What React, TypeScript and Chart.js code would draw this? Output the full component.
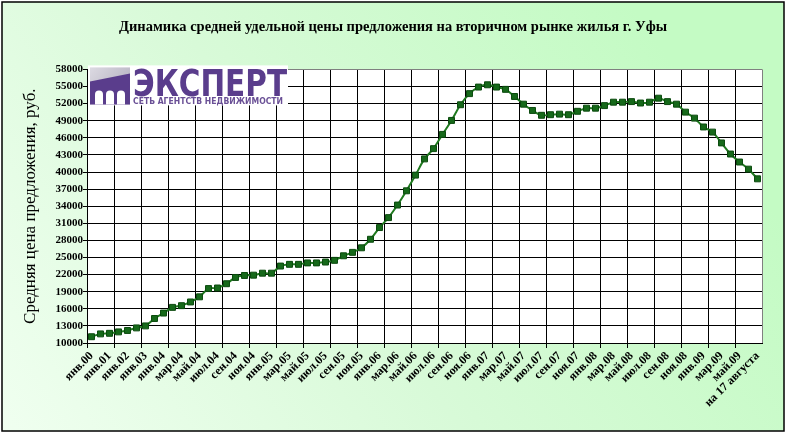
import React, { useEffect, useRef } from "react";
import { Chart, registerables } from "chart.js";

Chart.register(...registerables);

const TITLE = "Динамика средней удельной цены предложения на вторичном рынке жилья г. Уфы";
const Y_TITLE = "Средняя цена предложения, руб.";

const CATEGORIES = [
  "янв.00", "июл.00", "янв.01", "июл.01", "янв.02", "июл.02", "янв.03", "июл.03",
  "янв.04", "фев.04", "мар.04", "апр.04", "май.04", "июн.04", "июл.04", "авг.04", "сен.04", "окт.04", "ноя.04", "дек.04",
  "янв.05", "фев.05", "мар.05", "апр.05", "май.05", "июн.05", "июл.05", "авг.05", "сен.05", "окт.05", "ноя.05", "дек.05",
  "янв.06", "фев.06", "мар.06", "апр.06", "май.06", "июн.06", "июл.06", "авг.06", "сен.06", "окт.06", "ноя.06", "дек.06",
  "янв.07", "фев.07", "мар.07", "апр.07", "май.07", "июн.07", "июл.07", "авг.07", "сен.07", "окт.07", "ноя.07", "дек.07",
  "янв.08", "фев.08", "мар.08", "апр.08", "май.08", "июн.08", "июл.08", "авг.08", "сен.08", "окт.08", "ноя.08", "дек.08",
  "янв.09", "фев.09", "мар.09", "апр.09", "май.09", "июн.09", "на 17 августа",
];

const PRICES = [
  11100, 11600, 11700, 11950, 12200, 12650, 13000, 14300,
  15250, 16250, 16550, 17200, 18100, 19550, 19650, 20400, 21500, 21850, 21900, 22250,
  22250, 23500, 23800, 23800, 24050, 24050, 24200, 24500, 25300, 25900, 26700, 28200,
  30250, 32000, 34200, 36700, 39450, 42300, 44100, 46600, 49050, 51800, 53750, 54900,
  55300, 54900, 54500, 53250, 51900, 50800, 49950, 50050, 50150, 50050, 50650, 51200,
  51200, 51650, 52250, 52250, 52350, 52100, 52250, 52950, 52350, 51900, 50500, 49450,
  47900, 47000, 45100, 43150, 41750, 40500, 38800,
];

const Y_MIN = 10000;
const Y_MAX = 58000;
const Y_STEP = 3000;

const LOGO_MAIN = "ЭКСПЕРТ";
const LOGO_SUB = "СЕТЬ АГЕНТСТВ НЕДВИЖИМОСТИ";

const SERIF = "'Liberation Serif', 'Times New Roman', serif";
const SANS = "'DejaVu Sans', 'Liberation Sans', sans-serif";

const backgroundPlugin = {
  id: "bgPlugin",
  beforeDraw(chart: any) {
    const { ctx, width, height, chartArea } = chart;
    ctx.save();
    ctx.fillStyle = "#ffffff";
    ctx.fillRect(0, 0, width, height);
    const g = ctx.createLinearGradient(0, height, width * 0.8, 0);
    g.addColorStop(0, "#f0fff0");
    g.addColorStop(0.5, "#d8fad8");
    g.addColorStop(1, "#c4fbc4");
    ctx.fillStyle = g;
    ctx.fillRect(2, 2, width - 4, height - 4);
    ctx.strokeStyle = "#000000";
    ctx.lineWidth = 1.5;
    ctx.strokeRect(2, 2, width - 4, height - 4);
    ctx.fillStyle = "#ffffff";
    ctx.fillRect(chartArea.left, chartArea.top, chartArea.right - chartArea.left, chartArea.bottom - chartArea.top);
    ctx.restore();
  },
  beforeDatasetsDraw(chart: any) {
    const { ctx, chartArea } = chart;
    ctx.save();
    ctx.strokeStyle = "#808080";
    ctx.lineWidth = 1;
    const r = Math.round(chartArea.right) + 0.5;
    ctx.beginPath();
    ctx.moveTo(r, chartArea.top);
    ctx.lineTo(r, chartArea.bottom);
    ctx.stroke();
    ctx.restore();
  },
  afterDraw(chart: any) {
    const { ctx, chartArea } = chart;
    const x0 = chartArea.left + 1;
    const y0 = chartArea.top - 4;
    ctx.save();
    ctx.fillStyle = "#ffffff";
    ctx.fillRect(x0, y0, 200, 40);
    const ix = x0 + 2;
    const iy = y0 + 2;
    const gg = ctx.createLinearGradient(ix, iy, ix + 40, iy + 38);
    gg.addColorStop(0, "#dcdae2");
    gg.addColorStop(1, "#a9a5b6");
    ctx.fillStyle = gg;
    ctx.fillRect(ix, iy, 40, 37);
    ctx.fillStyle = "#5a3d8c";
    ctx.beginPath();
    ctx.moveTo(ix, iy + 14);
    ctx.lineTo(ix + 40, iy + 6);
    ctx.lineTo(ix + 40, iy + 37);
    ctx.lineTo(ix, iy + 37);
    ctx.closePath();
    ctx.fill();
    ctx.fillStyle = "#ffffff";
    for (let k = 0; k < 3; k++) {
      const ax = ix + 5 + k * 11;
      ctx.beginPath();
      ctx.moveTo(ax, iy + 37);
      ctx.lineTo(ax, iy + 27);
      ctx.arc(ax + 4, iy + 27, 4, Math.PI, 0);
      ctx.lineTo(ax + 8, iy + 37);
      ctx.closePath();
      ctx.fill();
    }
    ctx.fillStyle = "#5a3d8c";
    ctx.font = `bold 38px ${SANS}`;
    ctx.textBaseline = "alphabetic";
    ctx.textAlign = "left";
    ctx.fillText(LOGO_MAIN, x0 + 45, y0 + 31, 154);
    ctx.font = `bold 8px ${SANS}`;
    ctx.fillStyle = "#6a5096";
    ctx.fillText(LOGO_SUB, x0 + 45, y0 + 39, 150);
    ctx.restore();
  },
};

export default function App() {
  const ref = useRef<HTMLCanvasElement | null>(null);

  useEffect(() => {
    if (!ref.current) return;
    const chart = new Chart(ref.current, {
      type: "line",
      data: {
        labels: CATEGORIES,
        datasets: [
          {
            data: PRICES,
            yAxisID: "y",
            borderColor: "#1f7a1f",
            borderWidth: 2,
            tension: 0.35,
            pointStyle: "rect",
            pointRadius: 4.2,
            pointBackgroundColor: "#16691a",
            pointBorderColor: "#0b4a0e",
            pointBorderWidth: 1,
          },
        ],
      },
      options: {
        animation: false,
        responsive: false,
        devicePixelRatio: 1,
        layout: { padding: 0 },
        plugins: {
          legend: { display: false },
          tooltip: { enabled: false },
          title: {
            display: true,
            text: TITLE,
            color: "#000000",
            font: { family: SERIF, size: 14.5, weight: "bold" },
            padding: { top: 19, bottom: 33 },
          },
        },
        scales: {
          x: {
            type: "category",
            offset: true,
            afterFit(scale: any) {
              scale.height = 90;
            },
            grid: {
              offset: true,
              color: (c: any) => (typeof c.index === "number" && c.index % 3 === 0 ? "#000000" : "rgba(0,0,0,0)"),
              tickColor: (c: any) => (typeof c.index === "number" && c.index % 3 === 0 ? "#000000" : "rgba(0,0,0,0)"),
              tickLength: 5,
              lineWidth: 1,
            },
            border: { display: true, color: "#000000", width: 1 },
            ticks: {
              autoSkip: false,
              minRotation: 45,
              maxRotation: 45,
              padding: 1,
              color: "#000000",
              font: { family: SERIF, size: 12, weight: "bold" },
              callback: (_v: any, i: number) => (i % 2 === 0 ? CATEGORIES[i] : ""),
            },
          },
          y: {
            min: Y_MIN,
            max: Y_MAX,
            afterFit(scale: any) {
              scale.width = 87;
            },
            grid: {
              color: (c: any) => (c.tick && c.tick.value === Y_MAX ? "#808080" : "#000000"),
              tickColor: "#000000",
              tickLength: 4,
              lineWidth: 1,
            },
            border: { display: true, color: "#000000", width: 1 },
            ticks: {
              stepSize: Y_STEP,
              padding: 0,
              color: "#000000",
              font: { family: SERIF, size: 11, weight: "bold" },
              callback: (v: any) => String(v),
            },
            title: {
              display: true,
              text: Y_TITLE,
              color: "#000000",
              font: { family: SERIF, size: 17, weight: "normal" },
              padding: { top: 20, bottom: 0 },
            },
          },
          spacer: {
            type: "linear",
            position: "right",
            min: Y_MIN,
            max: Y_MAX,
            afterFit(scale: any) {
              scale.width = 24;
            },
            grid: { display: false, drawTicks: false },
            border: { display: false },
            ticks: { display: false },
          },
        },
      },
      plugins: [backgroundPlugin],
    });
    return () => chart.destroy();
  }, []);

  return (
    <div style={{ position: "fixed", left: 0, top: 0, width: 786, height: 433 }}>
      <canvas ref={ref} width={786} height={433} style={{ width: 786, height: 433, display: "block" }} />
    </div>
  );
}
